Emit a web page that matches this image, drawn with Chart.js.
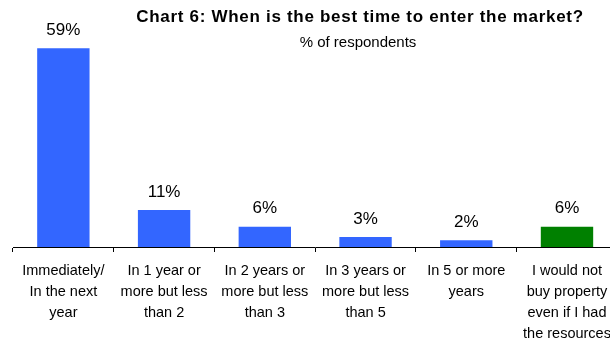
<!DOCTYPE html>
<html>
<head>
<meta charset="utf-8">
<script src="https://cdn.jsdelivr.net/npm/chart.js@4"></script>
<style>
  html, body { margin: 0; padding: 0; background: #fff; overflow: hidden; }
  #wrap { width: 620px; height: 341px; }
</style>
</head>
<body>
<div id="wrap"><canvas id="c" width="620" height="341"></canvas></div>
<script>
const categories = [
  ['Immediately/', 'In the next', 'year'],
  ['In 1 year or', 'more but less', 'than 2'],
  ['In 2 years or', 'more but less', 'than 3'],
  ['In 3 years or', 'more but less', 'than 5'],
  ['In 5 or more', 'years'],
  ['I would not', 'buy property', 'even if I had', 'the resources']
];
const shares = [59, 11, 6, 3, 2, 6];
const barColors = ['#3366FF', '#3366FF', '#3366FF', '#3366FF', '#3366FF', '#008000'];
const chartTitle = 'Chart 6: When is the best time to enter the market?';
const chartSubtitle = '% of respondents';

const FONT = '"Liberation Sans", Arial, sans-serif';

// Percent figures above each bar
const valueLabels = {
  id: 'valueLabels',
  afterDatasetsDraw(chart) {
    const ctx = chart.ctx;
    const meta = chart.getDatasetMeta(0);
    ctx.save();
    ctx.font = '17px ' + FONT;
    ctx.fillStyle = '#000';
    ctx.textAlign = 'center';
    ctx.textBaseline = 'middle';
    meta.data.forEach((bar, i) => {
      ctx.fillText(shares[i] + '%', bar.x, bar.y - 18);
    });
    ctx.restore();
  }
};

// Heading and subheading, laid over the top of the plot
const heading = {
  id: 'heading',
  afterDraw(chart) {
    const ctx = chart.ctx;
    ctx.save();
    ctx.fillStyle = '#000';
    ctx.textAlign = 'center';
    ctx.textBaseline = 'middle';
    ctx.font = 'bold 17px ' + FONT;
    if ('letterSpacing' in ctx) ctx.letterSpacing = '0.7px';
    ctx.fillText(chartTitle, 360, 17);
    if ('letterSpacing' in ctx) ctx.letterSpacing = '0px';
    ctx.font = '15px ' + FONT;
    ctx.fillText(chartSubtitle, 358, 43);
    ctx.restore();
  }
};

new Chart(document.getElementById('c'), {
  type: 'bar',
  data: {
    labels: categories,
    datasets: [{
      data: shares,
      backgroundColor: barColors,
      borderWidth: 0,
      barPercentage: 0.52,
      categoryPercentage: 1.0
    }]
  },
  options: {
    responsive: false,
    animation: false,
    events: [],
    layout: { padding: { top: 45, left: 13, right: 1, bottom: 0 } },
    plugins: {
      legend: { display: false },
      tooltip: { enabled: false },
      title: { display: false }
    },
    scales: {
      x: {
        grid: {
          offset: true,
          drawOnChartArea: false,
          tickLength: 5,
          color: '#000'
        },
        border: { color: '#000', width: 1 },
        ticks: {
          color: '#000',
          font: { family: FONT, size: 14.5, lineHeight: 1.43 },
          padding: 9,
          maxRotation: 0,
          autoSkip: false
        },
        afterFit(scale) { scale.height = 94; }
      },
      y: {
        display: false,
        min: 0,
        max: 60
      }
    }
  },
  plugins: [valueLabels, heading]
});
</script>
</body>
</html>
